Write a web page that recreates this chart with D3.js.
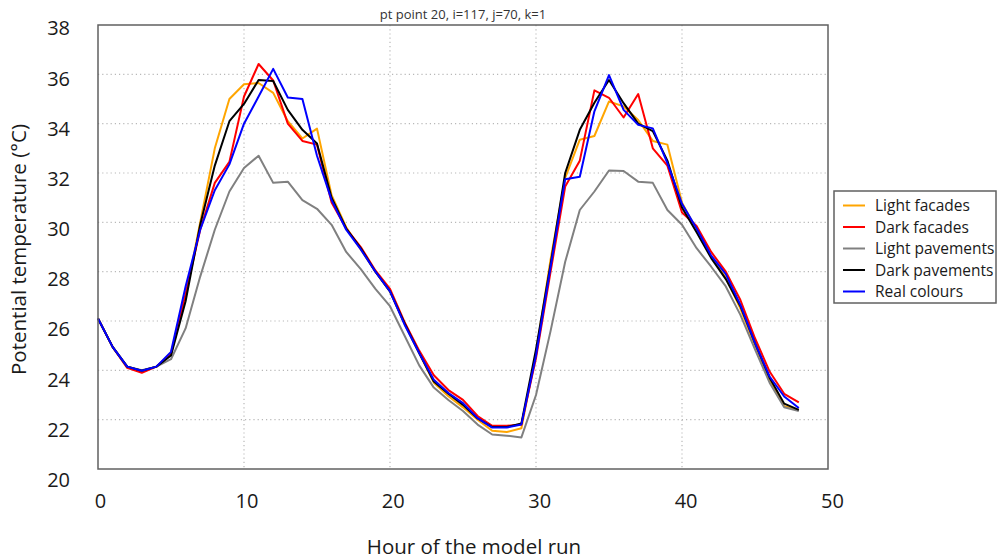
<!DOCTYPE html>
<html>
<head>
<meta charset="utf-8">
<script src="https://cdn.jsdelivr.net/npm/d3@7"></script>
<style>
  body { margin: 0; background: #fff; }
  svg { font-family: "Open Sans", sans-serif; }
</style>
</head>
<body>
<svg id="chart"></svg>
<script>
// hours of the model run
const hours = [0, 1, 2, 3, 4, 5, 6, 7, 8, 9, 10, 11, 12, 13, 14, 15, 16, 17, 18, 19, 20,
    21, 22, 23, 24, 25, 26, 27, 28, 29, 30, 31, 32, 33, 34, 35, 36, 37, 38, 39, 40,
    41, 42, 43, 44, 45, 46, 47, 48];

const lightFacades = [26.1, 24.95, 24.15, 23.98, 24.15, 24.7, 27.0, 30.0, 33.0, 35.0, 35.6,
    35.65, 35.25, 34.1, 33.4, 33.8, 31.1, 29.8, 28.9, 28.0, 27.2, 25.9, 24.7, 23.5, 22.95,
    22.5, 22.0, 21.55, 21.5, 21.65, 24.7, 28.5, 31.8, 33.35, 33.5, 34.9, 34.7, 34.15, 33.3,
    33.15, 30.8, 29.7, 28.6, 27.75, 26.5, 25.0, 23.6, 22.55, 22.4];

const darkFacades = [26.1, 24.95, 24.1, 23.9, 24.15, 24.65, 27.1, 29.7, 31.6, 32.45, 35.1,
    36.42, 35.75, 34.0, 33.3, 33.15, 30.8, 29.75, 29.0, 28.05, 27.3, 25.95, 24.8, 23.8, 23.2,
    22.8, 22.15, 21.75, 21.75, 21.8, 24.5, 28.0, 31.45, 32.5, 35.35, 35.05, 34.25, 35.2, 33.0,
    32.3, 30.4, 29.85, 28.8, 28.0, 26.85, 25.3, 23.95, 23.05, 22.7];

const lightPavements = [26.1, 24.95, 24.15, 24.0, 24.15, 24.45, 25.7, 27.8, 29.7, 31.25, 32.2,
    32.7, 31.6, 31.65, 30.9, 30.55, 29.9, 28.8, 28.1, 27.3, 26.6, 25.4, 24.2, 23.3, 22.8,
    22.35, 21.8, 21.4, 21.35, 21.28, 23.0, 25.6, 28.4, 30.5, 31.25, 32.1, 32.08, 31.65, 31.6,
    30.5, 29.9, 28.95, 28.2, 27.4, 26.25, 24.85, 23.5, 22.5, 22.35];

const darkPavements = [26.1, 24.95, 24.15, 23.98, 24.15, 24.6, 26.8, 29.9, 32.3, 34.1, 34.8,
    35.77, 35.73, 34.56, 33.75, 33.2, 31.0, 29.75, 28.95, 28.0, 27.2, 25.9, 24.7, 23.55, 23.05,
    22.6, 22.05, 21.7, 21.7, 21.85, 24.85, 28.3, 32.0, 33.75, 34.85, 35.77, 34.83, 34.0, 33.7,
    32.5, 30.6, 29.6, 28.55, 27.7, 26.6, 25.1, 23.7, 22.65, 22.4];

const realColours = [26.1, 24.95, 24.15, 23.98, 24.15, 24.75, 27.4, 29.7, 31.3, 32.35, 34.0,
    35.1, 36.22, 35.06, 35.0, 32.7, 30.9, 29.7, 28.9, 28.0, 27.2, 25.85, 24.7, 23.62, 23.08,
    22.67, 22.06, 21.68, 21.68, 21.8, 24.6, 28.2, 31.75, 31.85, 34.5, 35.97, 34.56, 33.95, 33.81,
    32.4, 30.75, 29.75, 28.65, 27.9, 26.65, 25.1, 23.75, 22.94, 22.47];

const seriesNames = ["Light facades", "Dark facades", "Light pavements", "Dark pavements", "Real colours"];
const seriesValues = [lightFacades, darkFacades, lightPavements, darkPavements, realColours];
const seriesColors = ["#ffa500", "#ff0000", "#808080", "#000000", "#0000ff"];

const xTicks = [0, 10, 20, 30, 40, 50];
const yTicks = [20, 22, 24, 26, 28, 30, 32, 34, 36, 38];

const margin = { top: 25, right: 175, bottom: 91, left: 98 },
    width = 1003 - margin.left - margin.right,
    height = 560 - margin.top - margin.bottom;

const root = d3.select("#chart")
    .attr("width", 1003)
    .attr("height", 560);

let svg = root.append("g")
    .attr("transform", `translate(${margin.left}, ${margin.top})`);

const xScale = d3.scaleLinear().domain([0, 50]).range([0, width]);
const yScale = d3.scaleLinear().domain([20, 38]).range([height, 0]);

// the tick labels in the picture sit a little off the grid lines
const xLabelScale = d3.scaleLinear().domain([0, 50]).range([2, width + 4]);
const yLabelScale = d3.scaleLinear().domain([20, 38]).range([height + 11, 3.5]);

// dotted grid
svg.append("g")
    .selectAll("line")
    .data(xTicks.filter(d => d > 0 && d < 50))
    .join("line")
    .attr("x1", d => xScale(d)).attr("x2", d => xScale(d))
    .attr("y1", 0).attr("y2", height)
    .attr("stroke", "#b8b8b8")
    .attr("stroke-width", 1.2)
    .attr("stroke-dasharray", "1.2,3");

svg.append("g")
    .selectAll("line")
    .data(yTicks.filter(d => d > 20 && d < 38))
    .join("line")
    .attr("x1", 0).attr("x2", width)
    .attr("y1", d => yScale(d)).attr("y2", d => yScale(d))
    .attr("stroke", "#b8b8b8")
    .attr("stroke-width", 1.2)
    .attr("stroke-dasharray", "1.2,3");

// tick labels
const xAxis = svg.append("g")
    .attr("transform", `translate(0, ${height + 22})`)
    .call(d3.axisBottom(xLabelScale).tickValues(xTicks).tickSize(0).tickFormat(d3.format("d")));
xAxis.select(".domain").remove();
xAxis.selectAll("text")
    .attr("font-family", "Open Sans, sans-serif")
    .attr("font-size", 20)
    .attr("fill", "#1a1a1a");

const yAxis = svg.append("g")
    .attr("transform", "translate(-25, 0)")
    .call(d3.axisLeft(yLabelScale).tickValues(yTicks).tickSize(0).tickFormat(d3.format("d")));
yAxis.select(".domain").remove();
yAxis.selectAll("text")
    .attr("font-family", "Open Sans, sans-serif")
    .attr("font-size", 20)
    .attr("fill", "#1a1a1a");

// lines
const line = d3.line()
    .x((d, i) => xScale(hours[i]))
    .y(d => yScale(d));

seriesValues.forEach((values, k) => {
    svg.append("path")
        .datum(values)
        .attr("fill", "none")
        .attr("stroke", seriesColors[k])
        .attr("stroke-width", 2)
        .attr("stroke-linejoin", "round")
        .attr("d", line);
});

// frame
svg.append("rect")
    .attr("width", width)
    .attr("height", height)
    .attr("fill", "none")
    .attr("stroke", "#606060")
    .attr("stroke-width", 1.5);

// titles
svg.append("text")
    .attr("x", width / 2)
    .attr("y", -6)
    .style("text-anchor", "middle")
    .attr("font-size", 13)
    .attr("fill", "#333")
    .text("pt point 20, i=117, j=70, k=1");

svg.append("text")
    .attr("x", 376)
    .attr("y", height + 85)
    .style("text-anchor", "middle")
    .attr("font-size", 20.5)
    .attr("fill", "#1a1a1a")
    .text("Hour of the model run");

svg.append("text")
    .attr("transform", `translate(-72, ${height / 2 + 2.5}) rotate(-90)`)
    .style("text-anchor", "middle")
    .attr("font-size", 20.5)
    .attr("fill", "#1a1a1a")
    .text("Potential temperature (°C)");

// legend
const legend = root.append("g")
    .attr("transform", "translate(834, 191)");

legend.append("rect")
    .attr("width", 162)
    .attr("height", 112)
    .attr("fill", "#fff")
    .attr("stroke", "#606060")
    .attr("stroke-width", 1.5);

seriesNames.forEach((name, k) => {
    const row = legend.append("g")
        .attr("transform", `translate(0, ${14.5 + k * 21.5})`);
    row.append("line")
        .attr("x1", 9).attr("x2", 31)
        .attr("y1", 0).attr("y2", 0)
        .attr("stroke", seriesColors[k])
        .attr("stroke-width", 2);
    row.append("text")
        .attr("x", 41)
        .attr("y", 5.5)
        .attr("font-size", 15.5)
        .attr("fill", "#1a1a1a")
        .text(name);
});
</script>
</body>
</html>
